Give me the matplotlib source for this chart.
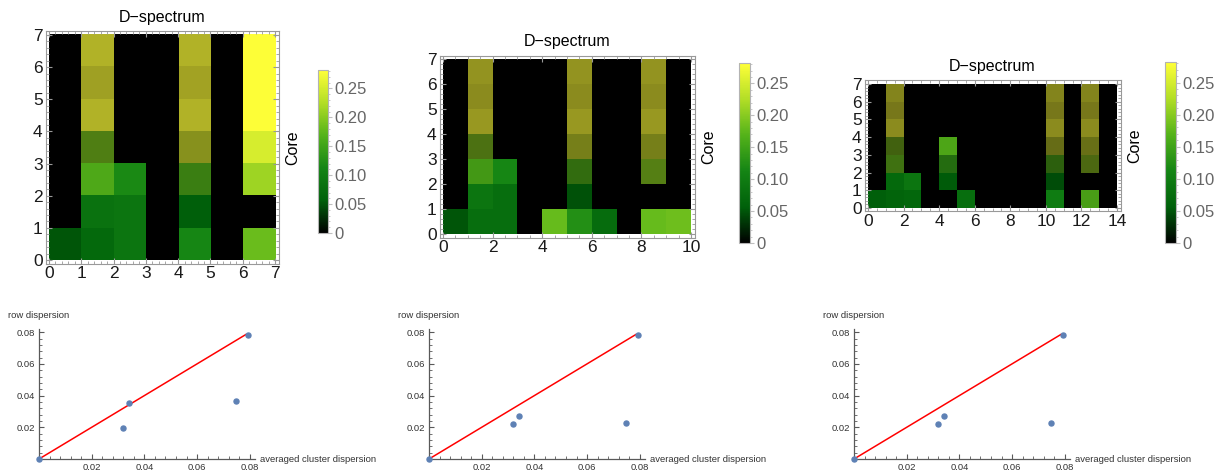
import numpy as np
import matplotlib
matplotlib.use("Agg")
import matplotlib.pyplot as plt
from matplotlib.colors import LinearSegmentedColormap, Normalize
from matplotlib.cm import ScalarMappable
from matplotlib.ticker import MultipleLocator, FixedLocator, FuncFormatter, FormatStrFormatter

plt.rcParams['font.family'] = ['Liberation Sans', 'DejaVu Sans']

W, H = 1225, 474

# --- D-spectrum data: rows listed from top (core 6-7) to bottom (core 0-1) ---
core1 = np.array([
    [0, .28, 0, 0, .28, 0, .28],
    [0, .28, 0, 0, .28, 0, .28],
    [0, .28, 0, 0, .28, 0, .28],
    [0, .193, 0, 0, .26, 0, .252],
    [0, .168, .118, 0, .168, 0, .213],
    [0, .084, .09, 0, .056, 0, 0],
    [.05, .07, .09, 0, .115, 0, .182],
])
opac1 = np.array([
    [1, .70, 1, 1, .70, 1, 1],
    [1, .63, 1, 1, .64, 1, 1],
    [1, .70, 1, 1, .70, 1, 1],
    [1, .64, 1, 1, .60, 1, 1],
    [1, .95, 1, 1, .71, 1, 1],
    [1, 1, 1, 1, 1, 1, 1],
    [1, 1, 1, 1, 1, 1, 1],
])

core2 = np.array([
    [0, .28, 0, 0, 0, .28, 0, 0, .28, 0],
    [0, .28, 0, 0, 0, .28, 0, 0, .28, 0],
    [0, .28, 0, 0, 0, .28, 0, 0, .28, 0],
    [0, .20, 0, 0, 0, .258, 0, 0, .258, 0],
    [0, .162, .115, 0, 0, .168, 0, 0, .20, 0],
    [0, .09, .078, 0, 0, .048, 0, 0, 0, 0],
    [.05, .078, .078, 0, .18, .126, .076, 0, .18, .185],
])
opac2 = np.array([
    [1, .58, 1, 1, 1, .58, 1, 1, .58, 1],
    [1, .55, 1, 1, 1, .55, 1, 1, .55, 1],
    [1, .60, 1, 1, 1, .60, 1, 1, .60, 1],
    [1, .56, 1, 1, 1, .53, 1, 1, .53, 1],
    [1, .88, 1, 1, 1, .61, 1, 1, .63, 1],
    [1, 1, 1, 1, 1, 1, 1, 1, 1, 1],
    [1, 1, 1, 1, 1, 1, 1, 1, 1, 1],
])

core3 = np.array([
    [0, .28, 0, 0, 0, 0, 0, 0, 0, 0, .28, 0, .28, 0],
    [0, .28, 0, 0, 0, 0, 0, 0, 0, 0, .28, 0, .28, 0],
    [0, .28, 0, 0, 0, 0, 0, 0, 0, 0, .28, 0, .28, 0],
    [0, .20, 0, 0, .168, 0, 0, 0, 0, 0, .266, 0, .26, 0],
    [0, .182, 0, 0, .14, 0, 0, 0, 0, 0, .168, 0, .21, 0],
    [0, .07, .09, 0, .053, 0, 0, 0, 0, 0, .045, 0, 0, 0],
    [.056, .062, .067, 0, 0, .078, 0, 0, 0, 0, .10, 0, .168, 0],
])
opac3 = np.array([
    [1, .52, 1, 1, 1, 1, 1, 1, 1, 1, .52, 1, .52, 1],
    [1, .47, 1, 1, 1, 1, 1, 1, 1, 1, .47, 1, .47, 1],
    [1, .55, 1, 1, 1, 1, 1, 1, 1, 1, .55, 1, .55, 1],
    [1, .48, 1, 1, .93, 1, 1, 1, 1, 1, .44, 1, .46, 1],
    [1, .60, 1, 1, .70, 1, 1, 1, 1, 1, .54, 1, .50, 1],
    [1, 1, 1, 1, 1, 1, 1, 1, 1, 1, 1, 1, 1, 1],
    [1, 1, 1, 1, 1, 1, 1, 1, 1, 1, 1, 1, .89, 1],
])

# --- dispersion scatter data ---
cluster_disp = [0, 0.032, 0.034, 0.0746, 0.0792]
row_disp1 = [0, 0.0193, 0.0353, 0.0363, 0.0783]
row_disp2 = [0, 0.0220, 0.0273, 0.0228, 0.0783]
row_disp3 = [0, 0.0220, 0.0273, 0.0228, 0.0783]
diag = [0, 0.0785]

avocado = LinearSegmentedColormap.from_list("avocado", [
    (0.0, (0, 0, 0)), (0.2, (0, 0.38, 0.04)), (0.4, (0.08, 0.52, 0.08)),
    (0.6, (0.33, 0.70, 0.10)), (0.8, (0.70, 0.87, 0.15)), (1.0, (1, 1, 0.22))])
norm = Normalize(0, 0.282)

fig = plt.figure(figsize=(W / 100, H / 100), dpi=100)


def box(x0, y0, x1, y1):
    return [x0 / W, 1 - y1 / H, (x1 - x0) / W, (y1 - y0) / H]


def spectrum(img, vals, opac, xstep, xminor, cbar):
    x0, y0, x1, y1 = img
    ny, nx = vals.shape
    pad = 3.5
    ax = fig.add_axes(box(x0 - pad, y0 - pad, x1 + pad, y1 + pad))
    rgb = avocado(norm(vals))[..., :3] * opac[..., None]
    ax.imshow(rgb, extent=(0, nx, 0, ny), origin='upper',
              interpolation='nearest', aspect='auto')
    ax.set_xlim(-pad * nx / (x1 - x0), nx + pad * nx / (x1 - x0))
    ax.set_ylim(-pad * ny / (y1 - y0), ny + pad * ny / (y1 - y0))
    ax.xaxis.set_major_locator(MultipleLocator(xstep))
    ax.xaxis.set_minor_locator(MultipleLocator(xminor))
    ax.yaxis.set_major_locator(MultipleLocator(1))
    ax.yaxis.set_minor_locator(MultipleLocator(0.2))
    ax.tick_params(which='both', direction='in', top=True, right=True,
                   color='0.6', labelsize=12.5, labelcolor='0.1', pad=2)
    ax.tick_params(which='major', length=4, width=0.8)
    ax.tick_params(which='minor', length=2, width=0.6)
    for s in ax.spines.values():
        s.set_color('0.6')
    ax.set_title("D\u2212spectrum", fontsize=11.5, pad=7)
    fig.text((x1 + pad + 14) / W, 1 - ((y0 + y1) / 2) / H, "Core",
             rotation=90, ha='center', va='center', fontsize=11.5)

    cax = fig.add_axes(box(*cbar))
    cb = fig.colorbar(ScalarMappable(norm=norm, cmap=avocado), cax=cax)
    cb.outline.set_edgecolor('0.7')
    cb.set_ticks([0, 0.05, 0.10, 0.15, 0.20, 0.25])
    cb.ax.yaxis.set_minor_locator(MultipleLocator(0.01))
    cb.ax.yaxis.set_major_formatter(
        FuncFormatter(lambda v, _: "0" if abs(v) < 1e-9 else f"{v:.2f}"))
    cax.tick_params(which='both', color='0.75', labelcolor='0.4',
                    labelsize=12, pad=1.5)
    cax.tick_params(which='major', length=3)
    cax.tick_params(which='minor', length=1.5)


def dispersion(axis_x, ys):
    ax = fig.add_axes(box(axis_x, 329, axis_x + 216, 459))
    ax.plot(diag, diag, color='red', lw=1.1, zorder=2)
    ax.scatter(cluster_disp, ys, s=13, color='#5E81B5', zorder=3, clip_on=False)
    ax.set_xlim(0, 0.082)
    ax.set_ylim(0, 0.082)
    for side in ('top', 'right'):
        ax.spines[side].set_visible(False)
    for side in ('left', 'bottom'):
        ax.spines[side].set_color('0.35')
        ax.spines[side].set_linewidth(0.9)
    ticks = [0.02, 0.04, 0.06, 0.08]
    ax.xaxis.set_major_locator(FixedLocator(ticks))
    ax.yaxis.set_major_locator(FixedLocator(ticks))
    ax.xaxis.set_minor_locator(MultipleLocator(0.004))
    ax.yaxis.set_minor_locator(MultipleLocator(0.004))
    ax.xaxis.set_major_formatter(FormatStrFormatter('%.2f'))
    ax.yaxis.set_major_formatter(FormatStrFormatter('%.2f'))
    ax.tick_params(which='both', direction='in', color='0.35',
                   labelsize=6.8, labelcolor='0.2', pad=3)
    ax.tick_params(which='major', length=3.5, width=0.8)
    ax.tick_params(which='minor', length=2, width=0.6)
    fig.text((axis_x - 31) / W, 1 - 316 / H, "row dispersion",
             fontsize=6.8, color='0.2', va='center')
    fig.text((axis_x + 221) / W, 1 - 460 / H, "averaged cluster dispersion",
             fontsize=6.8, color='0.2', va='center')


spectrum((49, 35, 275, 260), core1, opac1, 1, 0.2, (318, 70, 328, 233))
spectrum((443, 59, 691, 234), core2, opac2, 2, 0.5, (739, 63, 750, 243))
spectrum((868, 84, 1117, 208), core3, opac3, 2, 0.5, (1165, 62, 1176, 243))

dispersion(39, row_disp1)
dispersion(429, row_disp2)
dispersion(854, row_disp3)

fig.savefig("out.png", dpi=100)
